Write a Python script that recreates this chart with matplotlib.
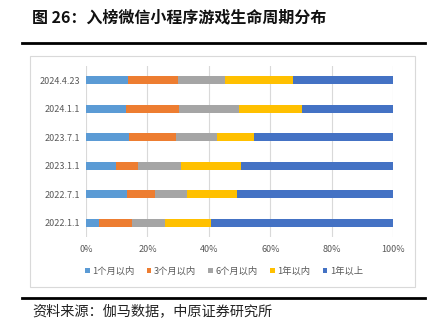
import matplotlib
matplotlib.use("Agg")
import matplotlib.pyplot as plt
import numpy as np
from matplotlib.patches import Rectangle
from matplotlib.lines import Line2D

plt.rcParams["font.family"] = ["Noto Sans CJK SC", "DejaVu Sans"]

# lifecycle share (%) per snapshot date, bottom row first
dates = ["2022.1.1", "2022.7.1", "2023.1.1", "2023.7.1", "2024.1.1", "2024.4.23"]
series_names = ["1个月以内", "3个月以内", "6个月以内", "1年以内", "1年以上"]
within_1m = [4.2, 13.2, 9.8, 14.1, 12.9, 13.8]
within_3m = [10.7, 9.4, 7.1, 15.2, 17.5, 16.0]
within_6m = [10.8, 10.3, 14.1, 13.4, 19.4, 15.5]
within_1y = [15.1, 16.4, 19.3, 11.9, 20.6, 21.9]
over_1y = [59.2, 50.7, 49.7, 45.4, 29.6, 32.8]
colors = ["#5B9BD5", "#ED7D31", "#A5A5A5", "#FFC000", "#4472C4"]
xticks = [0, 20, 40, 60, 80, 100]

fig = plt.figure(figsize=(4.34, 3.32), dpi=100)

fig.text(32 / 434, 1 - 17 / 332, "图 26：入榜微信小程序游戏生命周期分布",
         fontsize=11.5, fontweight="bold", va="center", ha="left", color="#111111")
for y in (43, 297.5):
    fig.add_artist(Line2D([22 / 434, 425 / 434], [1 - y / 332] * 2,
                          color="black", lw=2.0, transform=fig.transFigure))
fig.add_artist(Rectangle((30 / 434, 1 - 287 / 332), 385 / 434, 231 / 332,
                         transform=fig.transFigure, fill=False,
                         edgecolor="#D9D9D9", lw=0.8))
fig.text(32 / 434, 1 - 311.5 / 332, "资料来源：伽马数据，中原证券研究所",
         fontsize=10.2, va="center", ha="left", color="#222222")

ax = fig.add_axes([86 / 434, 1 - 237 / 332, 307.3 / 434, 171 / 332])
ypos = np.arange(len(dates))
left = np.zeros(len(dates))
for name, vals, c in zip(series_names,
                         [within_1m, within_3m, within_6m, within_1y, over_1y], colors):
    ax.barh(ypos, vals, left=left, height=0.29, color=c, label=name, zorder=3)
    left += np.array(vals)

ax.set_xlim(0, 100)
ax.set_ylim(-0.5, len(dates) - 0.5)
ax.set_xticks(xticks)
ax.set_xticklabels([f"{v}%" for v in xticks])
ax.set_yticks(ypos)
ax.set_yticklabels(dates)
ax.tick_params(length=0, labelsize=6.5, colors="#595959", pad=4)
ax.tick_params(axis="x", pad=6)
ax.grid(axis="x", color="#D9D9D9", lw=0.8, zorder=0)
for s in ax.spines.values():
    s.set_visible(False)

fig.legend(loc="center", bbox_to_anchor=(224 / 434, 1 - 271 / 332), ncol=5,
           frameon=False, fontsize=6.7, handlelength=0.5, handleheight=0.5,
           handletextpad=0.3, columnspacing=1.3, labelcolor="#595959")

fig.savefig("out.png", dpi=100)
